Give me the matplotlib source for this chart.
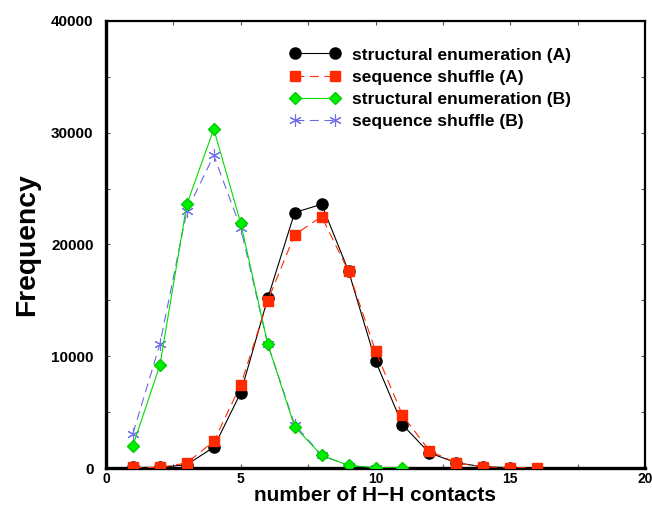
import matplotlib
matplotlib.use("Agg")
import matplotlib.pyplot as plt
from matplotlib.ticker import MultipleLocator

plt.rcParams['font.family'] = ['Liberation Sans', 'DejaVu Sans']

# data
x_struct_A = [1, 2, 3, 4, 5, 6, 7, 8, 9, 10, 11, 12, 13, 14, 15]
y_struct_A = [50, 50, 300, 1860, 6740, 15170, 22860, 23600, 17620, 9580, 3870, 1350, 470, 100, 30]

x_shuffle_A = [1, 2, 3, 4, 5, 6, 7, 8, 9, 10, 11, 12, 13, 14, 15, 16]
y_shuffle_A = [50, 50, 450, 2400, 7420, 14960, 20870, 22500, 17600, 10470, 4730, 1550, 450, 100, 40, 30]

x_struct_B = [1, 2, 3, 4, 5, 6, 7, 8, 9, 10, 11]
y_struct_B = [2000, 9200, 23600, 30330, 21900, 11100, 3700, 1130, 240, 30, 20]

x_shuffle_B = [1, 2, 3, 4, 5, 6, 7, 8, 9, 10]
y_shuffle_B = [3080, 11100, 23000, 27970, 21460, 11100, 3880, 1150, 200, 30]

labels = ["structural enumeration (A)", "sequence shuffle (A)",
          "structural enumeration (B)", "sequence shuffle (B)"]

fig = plt.figure(figsize=(6.52, 5.12), dpi=100)
ax = fig.add_axes([106/652, 44/512, 539/652, 447/512])

ax.plot(x_struct_A, y_struct_A, color='black', lw=0.8, ls='-', marker='o',
        ms=8, mfc='black', mec='black', label=labels[0], zorder=3)
ax.plot(x_shuffle_A, y_shuffle_A, color='#ff2a00', lw=0.8, ls=(0, (8, 5)), marker='s',
        ms=7, mfc='#ff2a00', mec='#ff2a00', label=labels[1], zorder=4)
ax.plot(x_struct_B, y_struct_B, color='#00dd00', lw=0.8, ls='-', marker='D',
        ms=6.5, mfc='#00ee00', mec='#00cc00', label=labels[2], zorder=3)
ax.plot(x_shuffle_B, y_shuffle_B, color='#6a6ae0', lw=0.8, ls=(0, (8, 5)), marker=(6, 2, 0),
        ms=9, mec='#7070e8', mew=0.8, label=labels[3], zorder=2)

ax.set_xlim(0, 20)
ax.set_ylim(0, 40000)
ax.xaxis.set_major_locator(MultipleLocator(5))
ax.xaxis.set_minor_locator(MultipleLocator(2.5))
ax.yaxis.set_major_locator(MultipleLocator(10000))
ax.yaxis.set_minor_locator(MultipleLocator(5000))
ax.tick_params(which='both', direction='in', top=True, right=True, length=3, width=0.8, color='#555555')
ax.tick_params(axis='y', which='major', pad=9, labelsize=11)
ax.tick_params(axis='x', which='major', pad=3, labelsize=10)
for lab in ax.get_xticklabels() + ax.get_yticklabels():
    lab.set_fontweight('bold')

ax.spines['left'].set_linewidth(2.4)
ax.spines['bottom'].set_linewidth(2.4)
ax.spines['top'].set_linewidth(1.6)
ax.spines['right'].set_linewidth(1.6)

ax.set_xlabel("number of H\u2212H contacts", fontsize=15, fontweight='bold', labelpad=0)
ax.set_ylabel("Frequency", fontsize=20.3, fontweight='bold', labelpad=8)

leg = ax.legend(loc='upper left', bbox_to_anchor=(0.341, 0.941), frameon=False,
                numpoints=2, handlelength=2.9, handletextpad=0.7, labelspacing=0.40,
                borderpad=0, borderaxespad=0, prop={'size': 12.5, 'weight': 'bold'})

fig.savefig("out.png", dpi=100)
